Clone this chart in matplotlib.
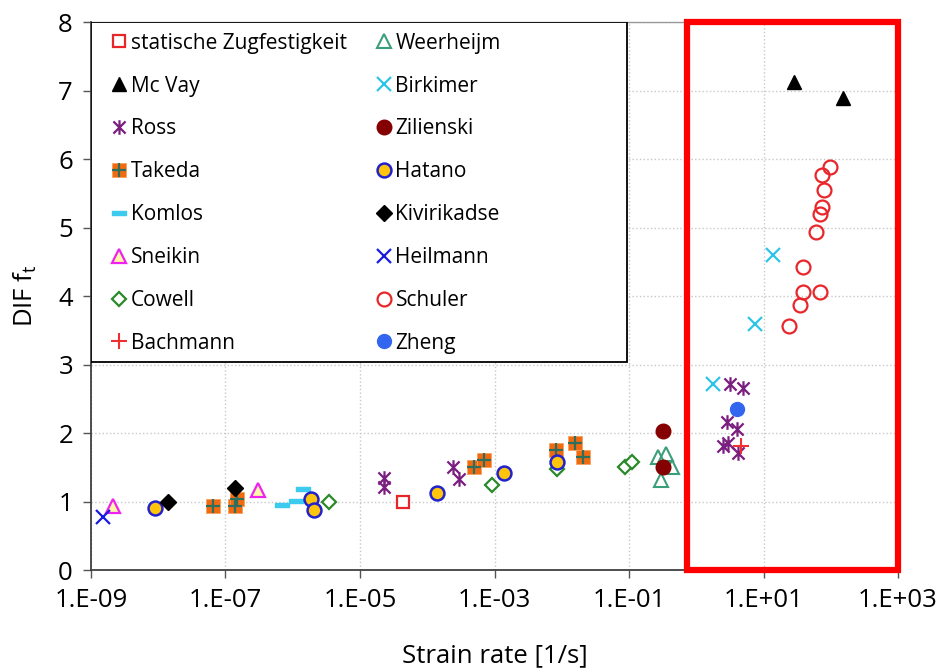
import numpy as np
import matplotlib
matplotlib.use("Agg")
import matplotlib.pyplot as plt
from matplotlib.path import Path
from matplotlib.patches import Rectangle
from matplotlib.legend_handler import HandlerTuple
from matplotlib.ticker import FixedLocator, FuncFormatter, NullLocator

plt.rcParams['font.family'] = ['Open Sans', 'DejaVu Sans']

# strain rate [1/s] and DIF values
static_x = [4.4e-5]
static_y = [0.99]
weerheijm_x = [0.27, 0.36, 0.44, 0.30]
weerheijm_y = [1.65, 1.69, 1.50, 1.31]
mcvay_x = [28, 150]
mcvay_y = [7.12, 6.89]
birkimer_x = [1.8, 7.4, 14]
birkimer_y = [2.72, 3.59, 4.60]
ross_x = [2.3e-5, 2.3e-5, 2.4e-4, 3.0e-4, 3.2, 5.0, 2.9, 4.1, 2.5, 3.0, 4.2]
ross_y = [1.35, 1.21, 1.50, 1.33, 2.71, 2.65, 2.16, 2.06, 1.81, 1.85, 1.71]
zilienski_x = [0.32, 0.32]
zilienski_y = [2.03, 1.50]
takeda_x = [6.5e-8, 1.4e-7, 1.5e-7, 5.0e-4, 6.9e-4, 8.1e-3, 1.6e-2, 2.1e-2]
takeda_y = [0.93, 0.93, 1.04, 1.50, 1.60, 1.75, 1.85, 1.65]
hatano_x = [8.9e-9, 1.9e-6, 2.1e-6, 1.4e-4, 1.4e-3, 8.5e-3]
hatano_y = [0.90, 1.04, 0.88, 1.12, 1.42, 1.58]
komlos_x = [6.9e-7, 1.1e-6, 1.4e-6]
komlos_y = [0.95, 1.01, 1.18]
kivirikadse_x = [1.4e-8, 1.4e-7]
kivirikadse_y = [1.00, 1.20]
sneikin_x = [2.1e-9, 3.0e-7]
sneikin_y = [0.93, 1.17]
heilmann_x = [1.5e-9]
heilmann_y = [0.78]
cowell_x = [3.5e-6, 9.1e-4, 8.5e-3, 8.7e-2, 0.11]
cowell_y = [0.99, 1.24, 1.47, 1.51, 1.57]
schuler_x = [98, 74, 79, 74, 69, 60, 39, 39, 69, 35, 24]
schuler_y = [5.88, 5.77, 5.55, 5.30, 5.20, 4.94, 4.42, 4.06, 4.06, 3.87, 3.56]
bachmann_x = [4.7]
bachmann_y = [1.81]
zheng_x = [4.1]
zheng_y = [2.35]

x_ticks = [1e-9, 1e-7, 1e-5, 1e-3, 1e-1, 1e1, 1e3]
y_ticks = [0, 1, 2, 3, 4, 5, 6, 7, 8]
box_left = 0.72  # left edge of the red frame

# excel-like markers
star = Path([(-1, -1), (1, 1), (-1, 1), (1, -1), (0, -1.2), (0, 1.2)],
            [Path.MOVETO, Path.LINETO, Path.MOVETO, Path.LINETO, Path.MOVETO, Path.LINETO])
dash = Path([(-1, -0.25), (1, -0.25), (1, 0.25), (-1, 0.25), (-1, -0.25)],
            [Path.MOVETO, Path.LINETO, Path.LINETO, Path.LINETO, Path.CLOSEPOLY])

fig = plt.figure(figsize=(9.42, 6.71), dpi=100)
ax = fig.add_axes([0.0966, 0.1505, 0.8567, 0.8167])

kw = dict(linestyle='none')
h_static, = ax.plot(static_x, static_y, marker='s', ms=9, mfc='white', mec='#e8262a', mew=1.6, **kw)
h_mcvay, = ax.plot(mcvay_x, mcvay_y, marker='^', ms=9.5, color='black', **kw)
h_ross, = ax.plot(ross_x, ross_y, marker=star, ms=10.5, color='none', mec='#7a1e80', mew=1.6, **kw)
h_tak1, = ax.plot(takeda_x, takeda_y, marker='s', ms=10, color='#f26a10', mec='#f6a060', mew=0.6, **kw)
h_tak2, = ax.plot(takeda_x, takeda_y, marker='+', ms=9.5, mec='#2d6e5c', mew=1.6, **kw)
h_komlos, = ax.plot(komlos_x, komlos_y, marker=dash, ms=10, color='#3ccbee', mec='#3ccbee', **kw)
h_sneikin, = ax.plot(sneikin_x, sneikin_y, marker='^', ms=10, mfc='#fff8a8', mec='#ee22ee', mew=1.6, **kw)
h_cowell, = ax.plot(cowell_x, cowell_y, marker='D', ms=7.5, mfc='white', mec='#2a8a2a', mew=1.6, **kw)
h_bach, = ax.plot(bachmann_x, bachmann_y, marker='+', ms=11, mec='#ee3030', mew=1.5, **kw)
h_weer, = ax.plot(weerheijm_x, weerheijm_y, marker='^', ms=10, mfc='none', mec='#3a9e78', mew=1.5, **kw)
h_birk, = ax.plot(birkimer_x, birkimer_y, marker='x', ms=9.5, mec='#2ec4ea', mew=1.6, **kw)
h_zil, = ax.plot(zilienski_x, zilienski_y, marker='o', ms=10.5, color='#850000', **kw)
h_hatano, = ax.plot(hatano_x, hatano_y, marker='o', ms=10, mfc='#ffc40c', mec='#2222cc', mew=1.8, **kw)
h_kivi, = ax.plot(kivirikadse_x, kivirikadse_y, marker='D', ms=8, color='black', **kw)
h_heil, = ax.plot(heilmann_x, heilmann_y, marker='x', ms=9.5, mec='#1a1ae0', mew=1.6, **kw)
h_schuler, = ax.plot(schuler_x, schuler_y, marker='o', ms=10, mfc='none', mec='#e8262a', mew=1.6, **kw)
h_zheng, = ax.plot(zheng_x, zheng_y, marker='o', ms=10, color='#3366ee', **kw)

ax.set_xscale('log')
ax.set_xlim(1e-9, 1e3)
ax.set_ylim(0, 8)
ax.xaxis.set_major_locator(FixedLocator(x_ticks))
ax.xaxis.set_minor_locator(NullLocator())
ax.xaxis.set_major_formatter(FuncFormatter(lambda v, p: "1.E%+03d" % int(round(np.log10(v)))))
ax.set_yticks(y_ticks)
ax.tick_params(labelsize=18.5, length=6, width=1, color='#555555', pad=7)
ax.grid(True, color='#c8c8c8', linestyle=':', linewidth=1)
ax.set_axisbelow(True)

for s in ['left', 'bottom']:
    ax.spines[s].set_color('#404040')
    ax.spines[s].set_linewidth(1.3)
ax.spines['top'].set_color('#999999')
ax.spines['top'].set_linewidth(1)
ax.spines['right'].set_visible(False)

ax.set_xlabel('Strain rate [1/s]', fontsize=18.5, labelpad=22)
ax.set_ylabel('DIF f$_\\mathregular{t}$', fontsize=18.5, labelpad=14)

# red frame around high strain rates
ax.add_patch(Rectangle((box_left, 0), 1e3 - box_left, 8, fill=False, edgecolor='#ff0000',
                       linewidth=4.5, clip_on=False, zorder=5))

# legend frame drawn separately (box is wider than the entries)
ax.add_patch(Rectangle((0, 0.38), 0.664, 0.62, transform=ax.transAxes, facecolor='white',
                       edgecolor='black', linewidth=1.3, zorder=6))

handles = [h_static, h_mcvay, h_ross, (h_tak1, h_tak2), h_komlos, h_sneikin, h_cowell, h_bach,
           h_weer, h_birk, h_zil, h_hatano, h_kivi, h_heil, h_schuler, h_zheng]
labels = ['statische Zugfestigkeit', 'Mc Vay', 'Ross', 'Takeda', 'Komlos', 'Sneikin', 'Cowell', 'Bachmann',
          'Weerheijm', 'Birkimer', 'Zilienski', 'Hatano', 'Kivirikadse', 'Heilmann', 'Schuler', 'Zheng']
leg = ax.legend(handles, labels, ncol=2, loc='upper left', bbox_to_anchor=(0.018, 0.992),
                fontsize=15, frameon=False, handlelength=0.7, handletextpad=0.2, labelspacing=1.05,
                columnspacing=1.45, borderpad=0.3, borderaxespad=0,
                handler_map={tuple: HandlerTuple(ndivide=1)})
leg.set_zorder(7)

fig.savefig('out.png', dpi=100)
